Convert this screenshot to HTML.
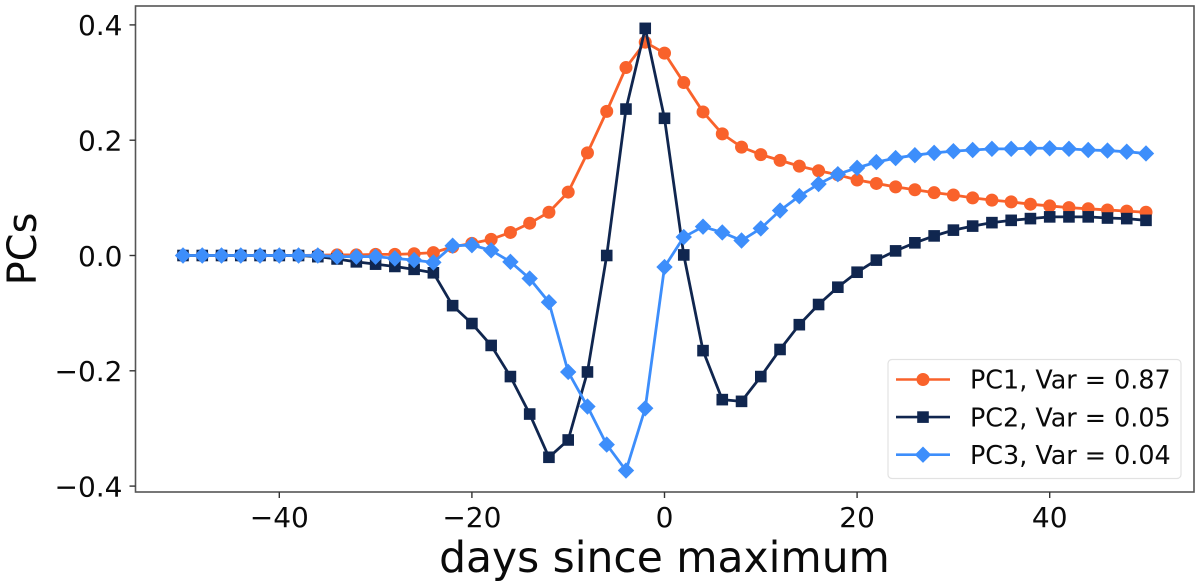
<!DOCTYPE html>
<html lang="en">
<head>
<meta charset="utf-8">
<title>Principal components vs days since maximum</title>
<style>
html,body{margin:0;padding:0;background:#fff;width:1200px;height:587px;overflow:hidden}
svg{display:block}
text{font-family:"DejaVu Sans","Liberation Sans",sans-serif;fill:#0a0a0a}
</style>
</head>
<body>
<svg id="chart" xmlns="http://www.w3.org/2000/svg" width="1200" height="587" viewBox="0 0 1200 587">
  <rect width="1200" height="587" fill="#fff"/>
  <g id="series" style="filter:blur(0.35px)"></g>
  <rect x="135.5" y="6" width="1058.5" height="486" fill="none" stroke="#555" stroke-width="1.6"/>
  <g id="ticks" style="filter:blur(0.3px)"></g>
  <text x="664.5" y="572" font-size="42.4" text-anchor="middle" style="filter:blur(0.3px)">days since maximum</text>
  <text transform="translate(36 249) rotate(-90)" font-size="40" text-anchor="middle" style="filter:blur(0.3px)">PCs</text>
  <g>
    <rect x="888" y="359.500" width="293" height="119" rx="4" fill="#fff" fill-opacity="0.9" stroke="#e2e2e2" stroke-width="1.2"/>
    <g id="legend-entries" style="filter:blur(0.3px)"></g>
  </g>
</svg>
<script>
const days = [-50,-48,-46,-44,-42,-40,-38,-36,-34,-32,-30,-28,-26,-24,-22,-20,-18,-16,-14,-12,-10,-8,-6,-4,-2,0,2,4,6,8,10,12,14,16,18,20,22,24,26,28,30,32,34,36,38,40,42,44,46,48,50];
const pc1Values = [0,0,0,0,0,0,0,0.0005,0.001,0.001,0.002,0.002,0.003,0.005,0.015,0.021,0.028,0.04,0.056,0.075,0.11,0.178,0.25,0.326,0.37,0.351,0.3,0.249,0.211,0.188,0.175,0.165,0.155,0.147,0.14,0.131,0.125,0.119,0.114,0.109,0.105,0.1,0.096,0.093,0.089,0.086,0.083,0.081,0.079,0.077,0.075];
const pc2Values = [0,0,0,0,0,0,0,-0.002,-0.006,-0.011,-0.015,-0.019,-0.024,-0.03,-0.087,-0.118,-0.156,-0.21,-0.275,-0.35,-0.32,-0.202,0,0.254,0.394,0.238,0.001,-0.165,-0.25,-0.253,-0.21,-0.163,-0.12,-0.085,-0.055,-0.029,-0.008,0.008,0.022,0.034,0.044,0.051,0.057,0.061,0.064,0.067,0.067,0.067,0.065,0.064,0.061];
const pc3Values = [0,0,0,0,0,0,0,0,-0.002,-0.002,-0.002,-0.005,-0.008,-0.012,0.017,0.018,0.009,-0.011,-0.04,-0.081,-0.202,-0.262,-0.328,-0.373,-0.265,-0.02,0.032,0.05,0.04,0.026,0.047,0.078,0.103,0.124,0.141,0.152,0.162,0.169,0.174,0.178,0.181,0.183,0.185,0.185,0.186,0.186,0.185,0.183,0.182,0.18,0.177];
const xTickValues = [-40,-20,0,20,40];
const yTickValues = [-0.4,-0.2,0,0.2,0.4];
const seriesNames = ["PC1","PC2","PC3"];
const varianceLabels = ["0.87","0.05","0.04"];

const NS = "http://www.w3.org/2000/svg";
const xScale = d => 664.5 + d * 9.63;
const yScale = v => 255.5 - v * 576.5;
const colors = ["#F9622B","#10264F","#3D8EFB"];
const shapes = ["circle","square","diamond"];
const allValues = [pc1Values,pc2Values,pc3Values];

function make(tag, attrs, parent){
  const el = document.createElementNS(NS, tag);
  for (const k in attrs) el.setAttribute(k, attrs[k]);
  parent.appendChild(el);
  return el;
}
function marker(shape, cx, cy, color, parent){
  let el;
  if (shape === "circle") {
    el = make("circle", {cx:cx, cy:cy, r:6.5, fill:color}, parent);
  } else if (shape === "square") {
    el = make("rect", {x:cx-5.8, y:cy-5.8, width:11.6, height:11.6, fill:color}, parent);
  } else {
    el = make("polygon", {points:[cx,cy-8.2,cx+8.2,cy,cx,cy+8.2,cx-8.2,cy].join(" "), fill:color}, parent);
  }
  return el;
}

const seriesLayer = document.getElementById("series");
allValues.forEach((vals, i) => {
  const g = make("g", {}, seriesLayer);
  
  
  const pts = vals.map((v, j) => xScale(days[j]) + "," + yScale(v)).join(" ");
  const line = make("polyline", {points:pts, fill:"none", stroke:colors[i], "stroke-width":2.8, "stroke-linejoin":"round"}, g);
  
  
  vals.forEach((v, j) => {
    const m = marker(shapes[i], xScale(days[j]), yScale(v), colors[i], g);
    
    
  });
});

const tickLayer = document.getElementById("ticks");
xTickValues.forEach(t => {
  const x = xScale(t);
  const tick = make("line", {x1:x, x2:x, y1:492, y2:498, stroke:"#333", "stroke-width":1.4}, tickLayer);
  
  
  const label = make("text", {x:x, y:527, "font-size":28, "text-anchor":"middle"}, tickLayer);
  
  
  label.textContent = (t < 0 ? "\u2212" : "") + Math.abs(t);
});
yTickValues.forEach(t => {
  const y = yScale(t);
  const tick = make("line", {x1:129.500, x2:135.5, y1:y, y2:y, stroke:"#333", "stroke-width":1.4}, tickLayer);
  
  
  const label = make("text", {x:122.5, y:y+10.3, "font-size":28, "text-anchor":"end"}, tickLayer);
  
  
  label.textContent = (t < 0 ? "\u2212" : "") + Math.abs(t).toFixed(1);
});

const legendLayer = document.getElementById("legend-entries");
seriesNames.forEach((name, i) => {
  const y = 379.5 + i * 37.6;
  const g = make("g", {}, legendLayer);
  
  
  make("line", {x1:896, x2:950, y1:y, y2:y, stroke:colors[i], "stroke-width":2.6}, g);
  marker(shapes[i], 923, y, colors[i], g);
  const label = make("text", {x:970, y:y+9.2, "font-size":25.4}, g);
  
  
  label.textContent = name + ", Var = " + varianceLabels[i];
});
</script>
</body>
</html>
